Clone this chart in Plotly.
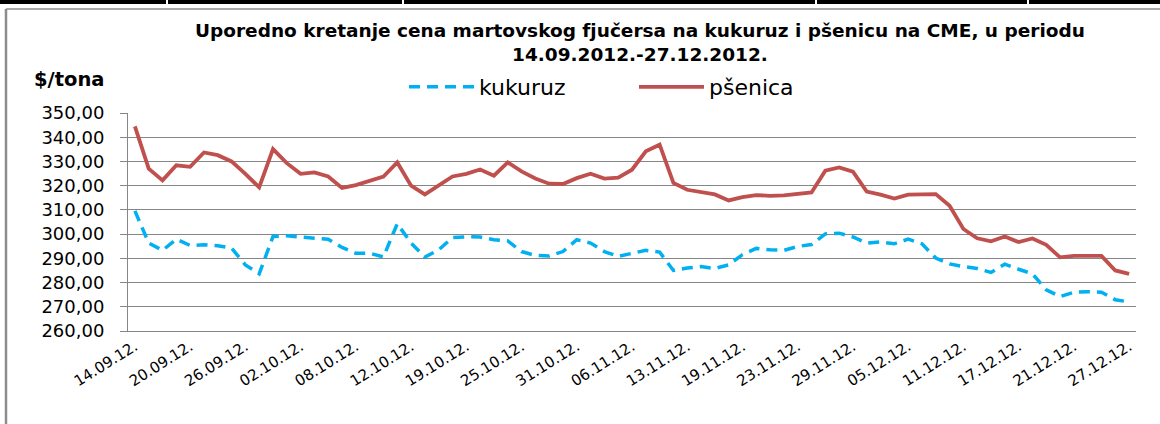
import plotly.graph_objects as go


# trading days, one label every 4th day
DATES = [
    "14.09.12.", "17.09.12.", "18.09.12.", "19.09.12.", "20.09.12.",
    "21.09.12.", "24.09.12.", "25.09.12.", "26.09.12.",
    "27.09.12.", "28.09.12.", "01.10.12.", "02.10.12.",
    "03.10.12.", "04.10.12.", "05.10.12.", "08.10.12.",
    "09.10.12.", "10.10.12.", "11.10.12.", "12.10.12.",
    "15.10.12.", "17.10.12.", "18.10.12.", "19.10.12.",
    "22.10.12.", "23.10.12.", "24.10.12.", "25.10.12.",
    "26.10.12.", "29.10.12.", "30.10.12.", "31.10.12.",
    "01.11.12.", "02.11.12.", "05.11.12.", "06.11.12.",
    "07.11.12.", "08.11.12.", "09.11.12.", "13.11.12.",
    "14.11.12.", "15.11.12.", "16.11.12.", "19.11.12.",
    "20.11.12.", "21.11.12.", "22.11.12.", "23.11.12.",
    "26.11.12.", "27.11.12.", "28.11.12.", "29.11.12.",
    "30.11.12.", "03.12.12.", "04.12.12.", "05.12.12.",
    "06.12.12.", "07.12.12.", "10.12.12.", "11.12.12.",
    "12.12.12.", "13.12.12.", "14.12.12.", "17.12.12.",
    "18.12.12.", "19.12.12.", "20.12.12.", "21.12.12.",
    "24.12.12.", "25.12.12.", "26.12.12.", "27.12.12.",
]

KUKURUZ = [
    309.6, 296.3, 293.3, 297.9, 295.3, 295.6, 295.2, 294.2, 287.3, 283.6,
    299.0, 299.3, 298.8, 298.2, 297.9, 294.5, 292.1, 292.1, 290.6, 304.3,
    296.3, 290.5, 293.5, 298.6, 298.9, 298.8, 297.7, 297.2, 292.8, 291.2,
    291.0, 292.8, 297.7, 296.3, 292.8, 290.8, 292.2, 293.3, 292.6, 285.0,
    286.0, 286.6, 285.8, 287.3, 291.5, 294.1, 293.5, 293.3, 294.9, 295.7,
    300.1, 300.4, 298.8, 296.3, 296.8, 296.0, 297.9, 296.0, 290.1, 287.7,
    286.6, 285.8, 284.2, 287.6, 285.5, 283.6, 277.0, 274.2, 276.0, 276.2,
    276.0, 272.9, 272.0,
]

PSENICA = [
    344.5, 327.0, 322.2, 328.4, 327.8, 333.7, 332.6, 330.0, 324.9, 319.3,
    335.1, 329.3, 324.9, 325.5, 323.8, 319.1, 320.2, 322.2, 323.8, 329.6,
    320.0, 316.4, 320.0, 323.8, 324.9, 326.7, 324.1, 329.6, 325.9, 323.0,
    320.8, 320.7, 323.1, 324.9, 322.9, 323.3, 326.6, 334.2, 336.9, 321.1,
    318.3, 317.5, 316.4, 313.9, 315.3, 316.1, 315.8, 316.0, 316.5, 317.2,
    326.2, 327.5, 325.8, 317.6, 316.3, 314.7, 316.3, 316.5, 316.5, 311.7,
    302.1, 298.3, 297.0, 299.0, 296.7, 298.2, 295.6, 290.4, 291.0, 291.0,
    291.0, 285.0, 283.6,
]

TICK_LABELS = DATES[::4]

TITLE = ("Uporedno kretanje cena martovskog fjučersa na kukuruz i pšenicu "
         "na CME, u periodu<br>14.09.2012.-27.12.2012.")

W, H = 1160, 424
L, R, T, B = 128, 24, 113, 93
GRID = "#868686"


def px_x(x):
    return (x - L) / (W - L - R)


def px_y(y):
    return (H - B - y) / (H - T - B)


def frame_shapes():
    shapes = []
    # black table border on top, with small cell gaps
    shapes.append(dict(type="line", xref="paper", yref="paper",
                       x0=px_x(0), x1=px_x(W), y0=px_y(2), y1=px_y(2),
                       line=dict(color="black", width=4)))
    for gx in [166, 402, 815, 1027]:
        shapes.append(dict(type="line", xref="paper", yref="paper",
                           x0=px_x(gx), x1=px_x(gx + 2), y0=px_y(2), y1=px_y(2),
                           line=dict(color="white", width=5)))
    # grey chart frame
    shapes.append(dict(type="line", xref="paper", yref="paper",
                       x0=px_x(6), x1=px_x(W), y0=px_y(9), y1=px_y(9),
                       line=dict(color="#8c8c8c", width=1.5)))
    shapes.append(dict(type="line", xref="paper", yref="paper",
                       x0=px_x(6), x1=px_x(6), y0=px_y(9), y1=px_y(H),
                       line=dict(color="#8c8c8c", width=2.5)))
    return shapes


def build_figure():
    fig = go.Figure()

    fig.add_trace(go.Scatter(
        x=DATES,
        y=KUKURUZ,
        mode="lines",
        name="kukuruz",
        line=dict(color="#00B0F0", width=3.5, dash="11px,7px"),
    ))

    fig.add_trace(go.Scatter(
        x=DATES,
        y=PSENICA,
        mode="lines",
        name="pšenica",
        line=dict(color="#C0504D", width=3.8),
    ))

    fig.update_layout(
        width=W,
        height=H,
        margin=dict(l=L, r=R, t=T, b=B, autoexpand=False),
        paper_bgcolor="white",
        plot_bgcolor="white",
        separators=",.",
        font=dict(family="DejaVu Sans", color="black"),
        showlegend=True,
        legend=dict(
            orientation="h",
            x=px_x(404), xanchor="left",
            y=px_y(87), yanchor="middle",
            font=dict(size=22, color="black"),
            itemwidth=65,
            entrywidth=150,
            bgcolor="rgba(0,0,0,0)",
        ),
        shapes=frame_shapes(),
        annotations=[
            dict(
                text="<b>" + TITLE + "</b>",
                xref="paper", yref="paper",
                x=px_x(640), xanchor="center",
                y=px_y(18), yanchor="top",
                align="center",
                showarrow=False,
                font=dict(size=18.5, color="black"),
            ),
            dict(
                text="<b>$/tona</b>",
                xref="paper", yref="paper",
                x=px_x(32), xanchor="left",
                y=px_y(80), yanchor="middle",
                showarrow=False,
                font=dict(size=19.5, color="black"),
            ),
        ],
    )

    fig.update_xaxes(
        type="category",
        range=[-0.5, len(DATES) - 0.5],
        tickmode="array",
        tickvals=TICK_LABELS,
        ticktext=TICK_LABELS,
        tickangle=-32,
        tickfont=dict(size=15, color="black"),
        showgrid=False,
        showline=True,
        linecolor=GRID,
        linewidth=1,
        ticks="",
    )

    fig.update_yaxes(
        range=[260, 350],
        dtick=10,
        tick0=260,
        tickformat=".2f",
        tickfont=dict(size=18, color="black"),
        showgrid=True,
        gridcolor=GRID,
        gridwidth=1,
        showline=True,
        linecolor=GRID,
        linewidth=1,
        ticks="outside",
        ticklen=7,
        tickcolor=GRID,
        ticklabelstandoff=12,
        zeroline=False,
    )

    return fig


def main():
    fig = build_figure()
    # drop the default 8px body margin so the figure sits at the page origin
    fig.write_html(
        "out.html",
        config={"displayModeBar": False},
        post_script="document.body.style.margin='0';document.body.style.overflow='hidden';",
    )


if __name__ == "__main__":
    main()
